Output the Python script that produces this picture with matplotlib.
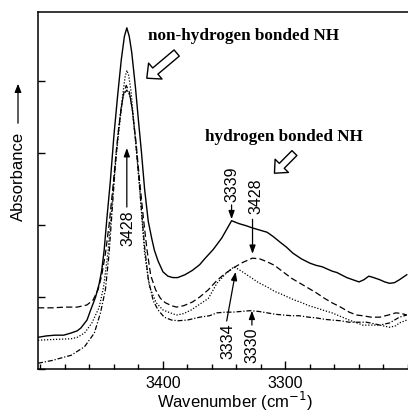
import numpy as np
import matplotlib
matplotlib.use("Agg")
import matplotlib.pyplot as plt
from matplotlib.ticker import MultipleLocator, FixedLocator, NullFormatter

# spectra (wavenumber in cm-1, absorbance in arbitrary units)
solid_wn = [3502, 3495, 3488, 3481, 3475, 3470, 3467, 3462, 3459, 3455, 3452, 3450,
            3448, 3446, 3443, 3440, 3437, 3434, 3431.5, 3429.5, 3427.5, 3425.5, 3422.5,
            3420, 3417.5, 3415, 3412, 3409, 3407, 3404, 3400, 3396, 3392, 3388, 3382,
            3376, 3370, 3366, 3359, 3352, 3344, 3338, 3332, 3327, 3321, 3315, 3310, 3305,
            3299, 3294, 3287, 3280, 3275, 3270, 3262, 3258, 3250, 3245, 3240, 3236, 3232,
            3228, 3223, 3219, 3215, 3211, 3207, 3201]
solid_abs = [0.44, 0.46, 0.47, 0.47, 0.50, 0.53, 0.57, 0.68, 0.82, 1.00, 1.19, 1.37,
             1.65, 2.05, 2.60, 3.25, 3.80, 4.30, 4.62, 4.74, 4.62, 4.40, 3.92,
             3.45, 3.00, 2.50, 2.05, 1.80, 1.65, 1.50, 1.35, 1.29, 1.27, 1.27, 1.31,
             1.37, 1.45, 1.53, 1.66, 1.82, 2.06, 2.02, 1.99, 1.96, 1.93, 1.90, 1.84, 1.77,
             1.69, 1.61, 1.53, 1.47, 1.44, 1.42, 1.36, 1.34, 1.27, 1.24, 1.21, 1.24, 1.29,
             1.27, 1.24, 1.21, 1.19, 1.20, 1.24, 1.31]

dashed_wn = [3502, 3490, 3480, 3470, 3462, 3457, 3453, 3450, 3447, 3444, 3441, 3438,
             3435, 3432.5, 3430, 3427.5, 3425, 3422, 3419, 3416, 3413, 3410, 3406, 3402,
             3398, 3393, 3389, 3383, 3376, 3370, 3363, 3356, 3349, 3342, 3335, 3327, 3321,
             3315, 3309, 3302, 3295, 3288, 3281, 3275, 3268, 3262, 3255, 3248, 3242, 3237,
             3230, 3223, 3216, 3210, 3205, 3201]
dashed_abs = [0.85, 0.85, 0.86, 0.86, 0.89, 0.96, 1.10, 1.30, 1.60, 2.00, 2.50, 3.05,
              3.50, 3.80, 3.94, 3.85, 3.60, 3.15, 2.60, 2.10, 1.65, 1.30, 1.10, 0.98,
              0.92, 0.88, 0.86, 0.88, 0.93, 1.00, 1.10, 1.23, 1.33, 1.41, 1.48, 1.54, 1.53,
              1.49, 1.44, 1.35, 1.26, 1.19, 1.12, 1.06, 0.98, 0.92, 0.86, 0.79, 0.75, 0.74,
              0.72, 0.72, 0.75, 0.78, 0.77, 0.75]

dotted_wn = [3502, 3490, 3475, 3470, 3464, 3458, 3452, 3448.5, 3445, 3442, 3440.5, 3438,
             3435, 3432.5, 3431, 3429.5, 3428, 3426, 3424, 3421.5, 3419, 3417, 3415, 3411,
             3405.5, 3400, 3394, 3389, 3383, 3377, 3370, 3363, 3356, 3349, 3342, 3336,
             3329, 3322, 3315, 3309, 3302, 3293, 3288, 3281, 3275, 3268, 3262, 3255, 3248,
             3240, 3237, 3230, 3223, 3215, 3210, 3207, 3201]
dotted_abs = [0.40, 0.41, 0.42, 0.44, 0.50, 0.64, 0.86, 1.14, 1.60, 2.20, 2.53, 3.00,
              3.46, 3.85, 4.05, 4.15, 4.08, 3.85, 3.46, 3.00, 2.53, 2.05, 1.61, 1.14,
              0.92, 0.82, 0.78, 0.75, 0.77, 0.82, 0.90, 0.98, 1.19, 1.32, 1.42, 1.36,
              1.28, 1.20, 1.14, 1.08, 1.03, 0.96, 0.93, 0.88, 0.85, 0.81, 0.78, 0.73, 0.68,
              0.63, 0.61, 0.61, 0.61, 0.58, 0.60, 0.64, 0.68]

dashdot_wn = [3502, 3490, 3486, 3475, 3464, 3456, 3451, 3447, 3444, 3441.5, 3439, 3436.5,
              3434, 3432, 3429.5, 3427, 3425, 3422.5, 3420, 3417.5, 3415, 3412, 3408, 3404,
              3399, 3393, 3388, 3380, 3370, 3362, 3356, 3349, 3343, 3336, 3329, 3322, 3315,
              3308, 3302, 3295, 3289, 3281, 3275, 3268, 3262, 3255, 3248, 3240, 3234, 3228,
              3223, 3215, 3207, 3201]
dashdot_abs = [0.08, 0.12, 0.14, 0.19, 0.31, 0.50, 0.78, 1.10, 1.60, 2.20, 2.80, 3.30,
               3.65, 3.82, 3.875, 3.80, 3.60, 3.20, 2.70, 2.20, 1.70, 1.25, 0.95, 0.82,
               0.72, 0.68, 0.67, 0.68, 0.72, 0.74, 0.78, 0.79, 0.79, 0.80, 0.81, 0.80, 0.78,
               0.76, 0.75, 0.74, 0.74, 0.72, 0.71, 0.69, 0.68, 0.67, 0.65, 0.65, 0.65, 0.63,
               0.61, 0.64, 0.72, 0.75]

xtick_labelled = [3400, 3300]

sans = ["Liberation Sans", "DejaVu Sans"]
serif = ["Liberation Serif", "DejaVu Serif"]

fig = plt.figure(figsize=(4.08, 4.12), dpi=100)
ax = fig.add_axes([38 / 408, 1 - 369 / 412, 370 / 408, 357 / 412])

ax.plot(solid_wn, solid_abs, color="black", lw=1.0, ls="-")
ax.plot(dashed_wn, dashed_abs, color="black", lw=0.9, dashes=(5, 2.5))
ax.plot(dotted_wn, dotted_abs, color="black", lw=0.9, dashes=(1, 1.4))
ax.plot(dashdot_wn, dashdot_abs, color="black", lw=0.9, dashes=(4, 1.5, 1, 1.5))

ax.set_xlim(3502, 3200)
ax.set_ylim(0, 4.96)

ax.xaxis.set_major_locator(FixedLocator(xtick_labelled))
ax.xaxis.set_minor_locator(MultipleLocator(20))
ax.yaxis.set_major_locator(MultipleLocator(1))
ax.yaxis.set_major_formatter(NullFormatter())
ax.tick_params(axis="x", which="major", direction="in", length=6, width=1, labelsize=11.5, pad=5)
ax.tick_params(axis="x", which="minor", direction="in", length=3.5, width=1)
ax.tick_params(axis="y", which="major", direction="in", length=5, width=1)
for lab in ax.get_xticklabels():
    lab.set_family(sans)
ax.spines["right"].set_visible(False)
for s in ("left", "bottom", "top"):
    ax.spines[s].set_linewidth(1.1)

fig.text(235 / 408, 1 - 401 / 412, "Wavenumber (cm$^{-1}$)", ha="center", va="center",
         fontsize=12, family=sans)
fig.text(18 / 408, 1 - 176 / 412, "Absorbance", rotation=90, ha="center", va="center",
         fontsize=12, family=sans)
fig.patches.append(matplotlib.patches.FancyArrowPatch(
    (18 / 408, 1 - 126 / 412), (18 / 408, 1 - 81 / 412), transform=fig.transFigure,
    arrowstyle="-|>,head_length=5,head_width=2", mutation_scale=1, color="black", lw=0.9))

# bold captions with open arrows
ax.text(3412.5, 4.625, "non-hydrogen bonded NH", ha="left", va="center",
        fontsize=12.3, fontweight="bold", family=serif)
ax.text(3366, 3.22, "hydrogen bonded NH", ha="left", va="center",
        fontsize=12.3, fontweight="bold", family=serif)
ax.annotate("", xy=(3413.2, 4.04), xytext=(3388.8, 4.39),
            arrowprops=dict(arrowstyle="simple,head_length=0.8,head_width=1.5,tail_width=0.58",
                            mutation_scale=10, fc="white", ec="black", lw=1.0,
                            shrinkA=0, shrinkB=0))
ax.annotate("", xy=(3309, 2.72), xytext=(3292.7, 3.0),
            arrowprops=dict(arrowstyle="simple,head_length=0.75,head_width=1.35,tail_width=0.5",
                            mutation_scale=10, fc="white", ec="black", lw=1.0,
                            shrinkA=0, shrinkB=0))

# peak labels: text (x, y), arrow tail, arrow tip
peak_labels = ["3428", "3339", "3428", "3334", "3330"]
label_pos = [(3428.6, 1.96), (3343.8, 2.56), (3324.4, 2.40), (3346.9, 0.39), (3327.4, 0.33)]
arrow_tail = [(3429.5, 2.25), (3344, 2.28), (3326.9, 2.08), (3348, 0.667), (3327.4, 0.61)]
arrow_tip = [(3429.5, 3.07), (3344, 2.08), (3326.9, 1.60), (3340.7, 1.35), (3327.4, 0.81)]

for txt, pos, tail, tip in zip(peak_labels, label_pos, arrow_tail, arrow_tip):
    ax.text(pos[0], pos[1], txt, rotation=90, ha="center", va="center",
            fontsize=11.5, family=sans)
    ax.annotate("", xy=tip, xytext=tail,
                arrowprops=dict(arrowstyle="-|>,head_length=5,head_width=1.8",
                                mutation_scale=1, color="black", lw=0.9,
                                shrinkA=0, shrinkB=0))

fig.savefig("out.png", dpi=100)
